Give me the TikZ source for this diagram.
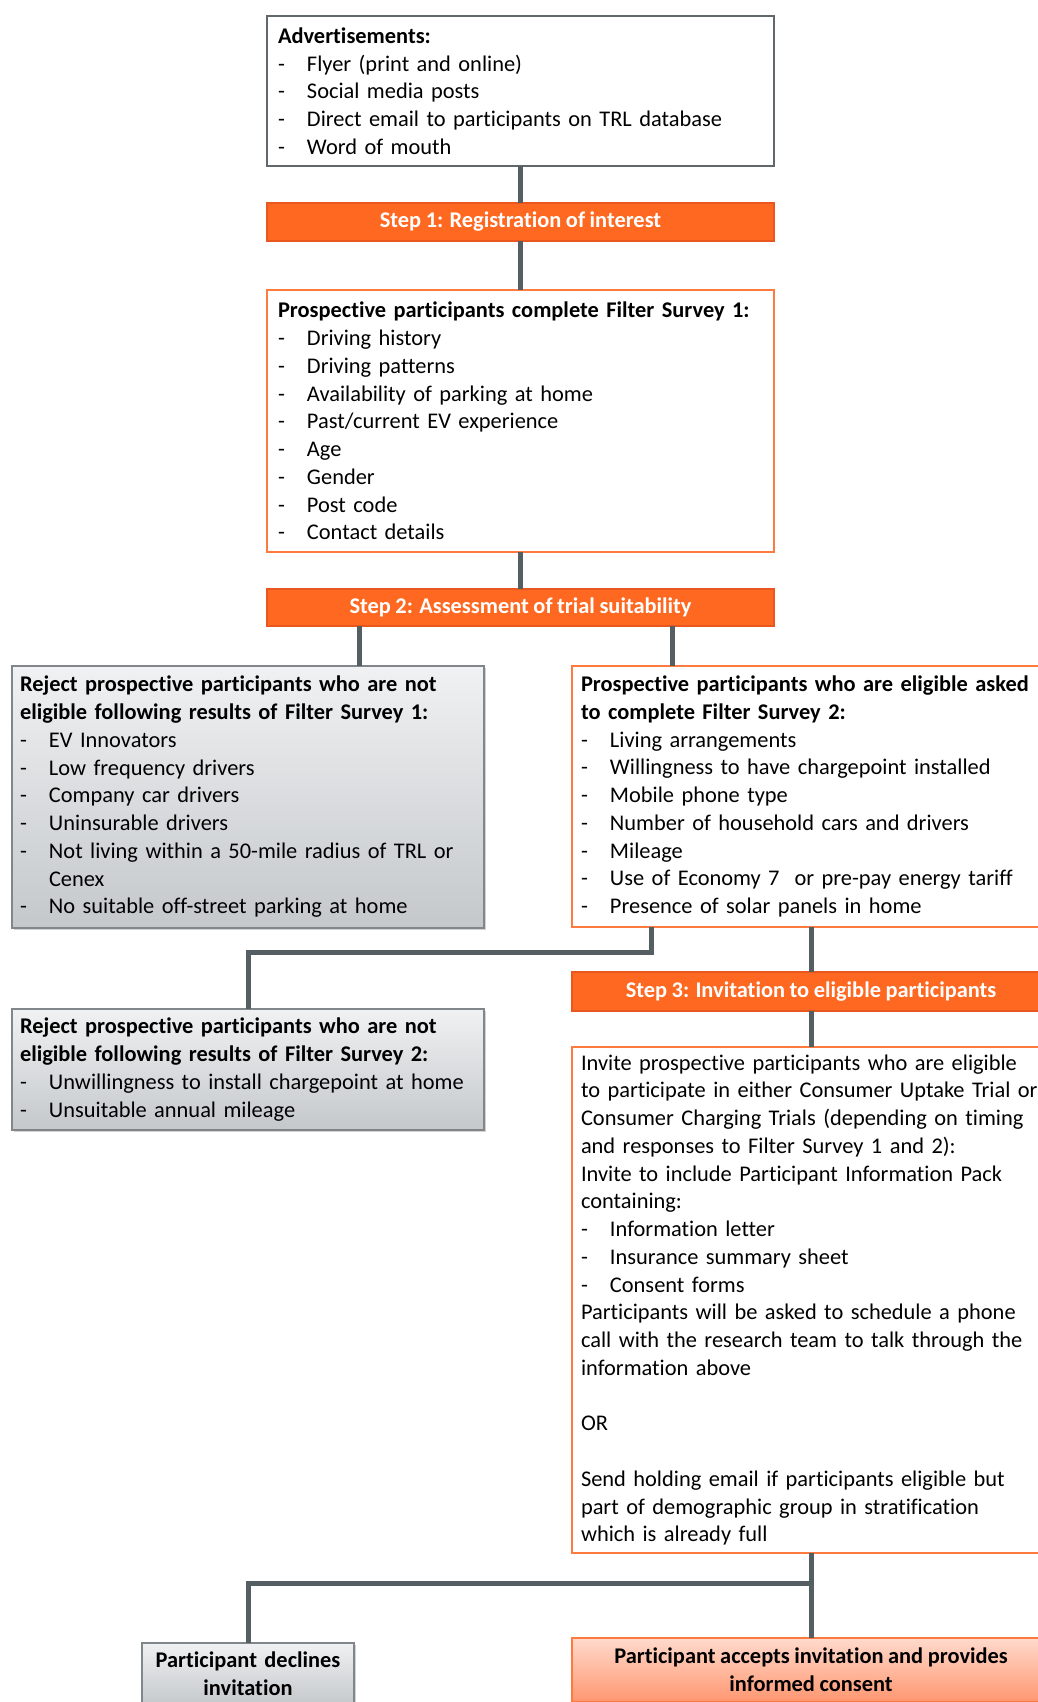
\documentclass[tikz,border=0pt]{standalone}
\usepackage{fontspec}
\setmainfont{Carlito}[Ligatures=NoCommon, WordSpace=0.9]
\usetikzlibrary{positioning, shadows}

\definecolor{steporange}{RGB}{255,104,32}
\definecolor{stepedge}{RGB}{232,88,30}
\definecolor{boxorange}{RGB}{255,122,62}
\definecolor{linkgray}{RGB}{84,94,99}
\definecolor{adgray}{RGB}{96,104,108}
\definecolor{rejtop}{RGB}{240,241,242}
\definecolor{rejbottom}{RGB}{196,200,203}
\definecolor{rejedge}{RGB}{128,134,138}
\definecolor{acctop}{RGB}{255,218,204}
\definecolor{accbottom}{RGB}{255,150,112}

\newcommand{\itm}[1]{\makebox[14.5pt][l]{-}#1}
\newcommand{\bodyfont}{\fontsize{11.2}{13.88}\selectfont}

\begin{document}
\begin{tikzpicture}
% style
	[x=0.5pt, y=-0.5pt, every node/.style={outer sep=0pt},
	link/.style={draw=linkgray, line width=2.5pt},
	listbox/.style={rectangle, draw=boxorange, line width=1pt, fill=white, inner xsep=5.5pt, inner ysep=0pt, align=left, font=\bodyfont},
	adbox/.style={listbox, draw=adgray},
	stepbox/.style={rectangle, draw=stepedge, line width=1pt, fill=steporange, text=white, inner sep=0pt, align=center, font=\bodyfont\bfseries},
	rejectbox/.style={rectangle, draw=rejedge, line width=0.8pt, top color=rejtop, bottom color=rejbottom, drop shadow={opacity=0.35, shadow xshift=1pt, shadow yshift=-1pt}, inner xsep=4pt, inner ysep=0pt, text width=228pt, align=left, font=\bodyfont},
	acceptbox/.style={rectangle, draw=boxorange, line width=0.8pt, top color=acctop, bottom color=accbottom, inner sep=0pt, align=center, font=\bodyfont\bfseries, minimum width=239pt}]

	\useasboundingbox (0,0) rectangle (1038,1702);
	\clip (0,0) rectangle (1038,1702);

	% centre column
	\node [adbox, text width=242.5pt, minimum height=75pt, anchor=north west] (ads) at (267,16)
		{\textbf{Advertisements:}\\
		\itm{Flyer (print and online)}\\
		\itm{Social media posts}\\
		\itm{Direct email to participants on TRL database}\\
		\itm{Word of mouth}};
	\node [stepbox, minimum width=253.5pt, minimum height=19pt, below=18.5pt of ads] (step1) {Step 1: Registration of interest};
	\node [listbox, text width=242.5pt, minimum height=131pt, below=24.5pt of step1] (fs1)
		{\textbf{Prospective participants complete Filter Survey 1:}\\
		\itm{Driving history}\\
		\itm{Driving patterns}\\
		\itm{Availability of parking at home}\\
		\itm{Past/current EV experience}\\
		\itm{Age}\\
		\itm{Gender}\\
		\itm{Post code}\\
		\itm{Contact details}};
	\node [stepbox, minimum width=253.5pt, minimum height=18.5pt, below=18.5pt of fs1] (step2) {Step 2: Assessment of trial suitability};

	% left column
	\node [rejectbox, minimum height=131pt, anchor=north west] (rej1) at (12,666)
		{\textbf{Reject prospective participants who are not}\\
		\textbf{eligible following results of Filter Survey 1:}\\
		\itm{EV Innovators}\\
		\itm{Low frequency drivers}\\
		\itm{Company car drivers}\\
		\itm{Uninsurable drivers}\\
		\itm{Not living within a 50-mile radius of TRL or}\\
		\hspace*{14.5pt}Cenex\\
		\itm{No suitable off-street parking at home}};
	\node [rejectbox, minimum height=60.5pt, below=40.5pt of rej1] (rej2)
		{\textbf{Reject prospective participants who are not}\\
		\textbf{eligible following results of Filter Survey 2:}\\
		\itm{Unwillingness to install chargepoint at home}\\
		\itm{Unsuitable annual mileage}};
	\node [rejectbox, text width=100pt, inner xsep=3pt, align=center, font=\bodyfont\bfseries, minimum height=31pt, below=256.5pt of rej2] (decl)
		{Participant declines\\invitation};

	% right column
	\node [listbox, text width=242pt, inner xsep=4.5pt, minimum height=130.5pt, anchor=north west] (elig) at (572,666)
		{\textbf{Prospective participants who are eligible asked}\\
		\textbf{to complete Filter Survey 2:}\\
		\itm{Living arrangements}\\
		\itm{Willingness to have chargepoint installed}\\
		\itm{Mobile phone type}\\
		\itm{Number of household cars and drivers}\\
		\itm{Mileage}\\
		\itm{Use of Economy 7\ \ or pre-pay energy tariff}\\
		\itm{Presence of solar panels in home}};
	\node [stepbox, minimum width=239pt, minimum height=19.5pt, below=22.5pt of elig.south west, anchor=north west] (step3) {Step 3: Invitation to eligible participants};
	\node [listbox, text width=242pt, inner xsep=4.5pt, minimum height=253pt, below=18pt of step3.south west, anchor=north west] (invite)
		{Invite prospective participants who are eligible\\
		to participate in either Consumer Uptake Trial or\\
		Consumer Charging Trials (depending on timing\\
		and responses to Filter Survey 1 and 2):\\
		Invite to include Participant Information Pack\\
		containing:\\
		\itm{Information letter}\\
		\itm{Insurance summary sheet}\\
		\itm{Consent forms}\\
		Participants will be asked to schedule a phone\\
		call with the research team to talk through the\\
		information above\\[13.88pt]
		OR\\[13.88pt]
		Send holding email if participants eligible but\\
		part of demographic group in stratification\\
		which is already full};
	\node [acceptbox, minimum height=32pt, below=42.5pt of invite.south west, anchor=north west] (accept)
		{Participant accepts invitation and provides\\informed consent};

	% connectors
	\draw[link] (ads) -- (step1);
	\draw[link] (step1) -- (fs1);
	\draw[link] (fs1) -- (step2);
	\draw[link] ([xshift=46pt]step2.south west) coordinate (s2l) -- (s2l |- rej1.north);
	\draw[link] ([xshift=50pt]elig.north west) coordinate (s2r) -- (s2r |- step2.south);
	\draw[link] ([xshift=39.5pt]elig.south west) -- ++(0,25) -| (rej2.north);
	\draw[link] (step3.north |- elig.south) -- (step3.north);
	\draw[link] (step3.south) -- (step3.south |- invite.north);
	\draw[link] (accept.north |- invite.south) -- ++(0,30) coordinate (fork) -- (accept.north);
	\draw[link] (fork) -| (decl.north);
\end{tikzpicture}
\end{document}
